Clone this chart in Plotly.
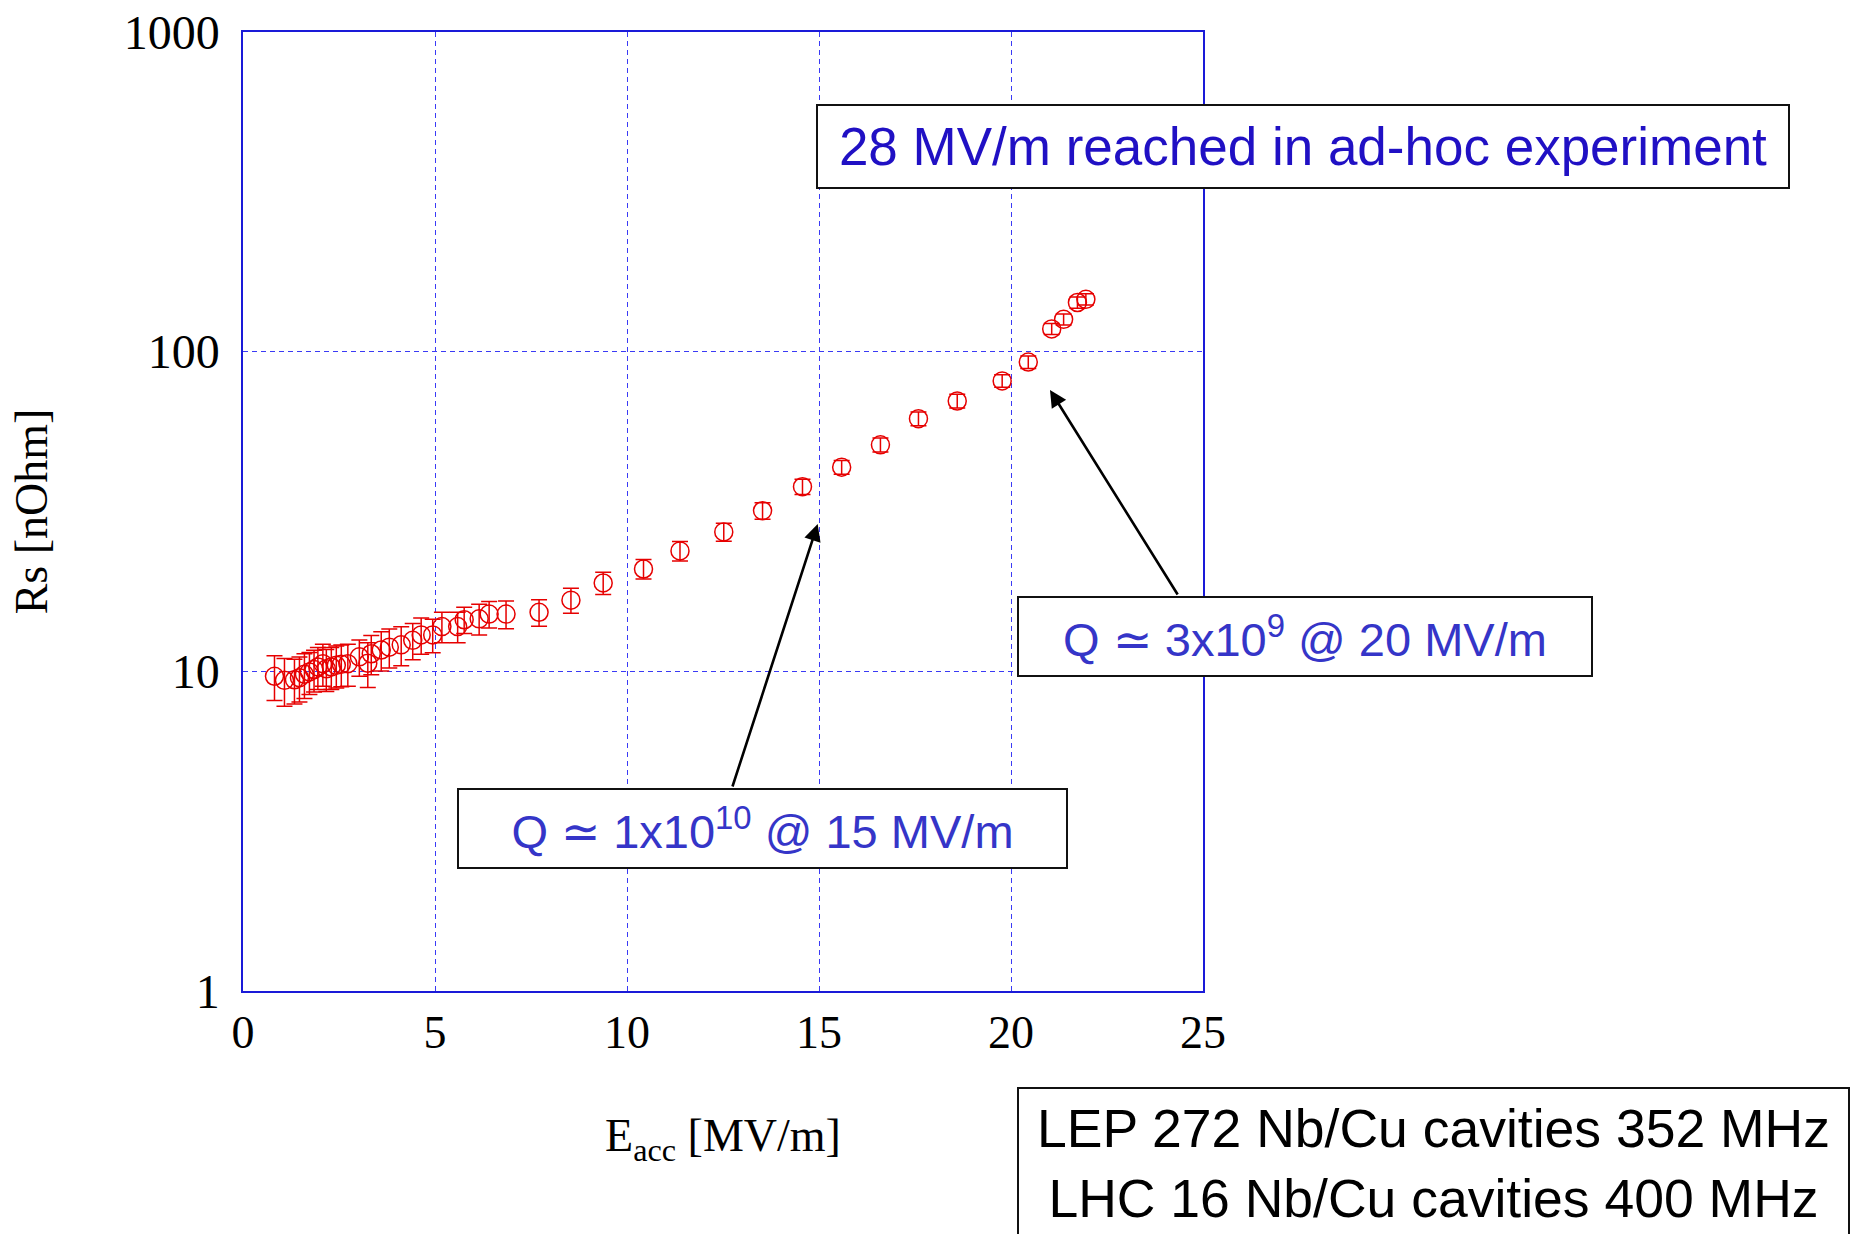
import plotly.graph_objects as go

# ---------------- data ----------------
e_acc = [0.82, 1.08, 1.34, 1.47, 1.60, 1.73, 1.85, 1.95, 2.08, 2.17, 2.30, 2.43, 2.56, 2.73,
         3.03, 3.25, 3.34, 3.60, 3.81, 4.12, 4.42, 4.64, 4.94, 5.18, 5.59, 5.76, 6.15, 6.41,
         6.85, 7.71, 8.54, 9.38, 10.43, 11.38, 12.52, 13.53, 14.57, 15.59, 16.60, 17.59,
         18.60, 19.77, 20.45, 21.06, 21.37, 21.73, 21.95]
rs = [9.65, 9.37, 9.41, 9.55, 9.79, 9.96, 10.13, 10.32, 10.57, 10.18, 10.32, 10.44, 10.52, 10.57,
      11.1, 10.6, 11.35, 11.66, 11.9, 12.1, 12.5, 13.0, 13.0, 13.8, 13.8, 14.5, 14.6, 15.1,
      15.1, 15.3, 16.7, 18.9, 20.9, 23.8, 27.3, 31.8, 37.8, 43.5, 51.1, 61.7,
      70.1, 81.0, 92.8, 117.8, 126.2, 142.5, 145.8]
rs_err_pct = [16, 17, 16, 16, 16, 15, 15, 15, 15, 15, 15, 15, 15, 15,
              13, 16, 14, 14, 14, 14, 13, 13, 12, 11, 11, 9.5, 11, 9.5,
              10, 9.5, 9, 8, 7, 7, 6.5, 6, 5.5, 5, 5, 5,
              5, 4.5, 4.5, 4, 4, 4, 4]

x_ticks = [0, 5, 10, 15, 20, 25]
y_ticks = [1, 10, 100, 1000]
y_ticktext = ["1", "10", "100", "1000"]

note_top = "28 MV/m reached in ad-hoc experiment"
note_q20 = "Q \u2243 3x10<sup>9</sup> @ 20 MV/m"
note_q15 = "Q \u2243 1x10<sup>10</sup> @ 15 MV/m"
note_cav = "LEP 272 Nb/Cu cavities 352 MHz<br>LHC 16 Nb/Cu cavities 400 MHz"

# ---------------- styling ----------------
W, H = 1854, 1234
L, R, T, B = 243, 651, 32, 243
PW, PH = W - L - R, H - T - B
RED = "#e60000"
FRAME = "#1a1ad8"
GRID = "#3a3af5"
SERIF = "Liberation Serif, Times New Roman, serif"
SANS = "Liberation Sans, Arial, sans-serif"


def px(xp, yp):
    """page pixel -> paper coords"""
    return (xp - L) / PW, (H - B - yp) / PH


err = [v * p / 100.0 for v, p in zip(rs, rs_err_pct)]

fig = go.Figure()
fig.add_trace(go.Scatter(
    x=e_acc, y=rs, mode="markers", showlegend=False,
    marker=dict(symbol="circle-open", size=18, color=RED, line=dict(width=1.5, color=RED)),
    error_y=dict(type="data", array=err, visible=True, color=RED, thickness=1.5, width=8),
))

axis_common = dict(
    showline=True, linecolor=FRAME, linewidth=1.5, mirror=True,
    showgrid=True, gridcolor=GRID, gridwidth=1.3, griddash="5px,4px",
    zeroline=False, ticks="",
)

fig.update_layout(
    width=W, height=H,
    margin=dict(l=L, r=R, t=T, b=B, autoexpand=False),
    paper_bgcolor="white", plot_bgcolor="white",
    xaxis=dict(range=[0, 25], tickvals=x_ticks, ticklabelstandoff=0,
               tickfont=dict(family=SERIF, size=46, color="black"),
               title=dict(text="E<sub>acc</sub> [MV/m]", standoff=62,
                          font=dict(family=SERIF, size=46, color="black")),
               **axis_common),
    yaxis=dict(type="log", range=[0, 3], tickvals=y_ticks, ticktext=y_ticktext,
               ticklabelstandoff=12,
               tickfont=dict(family=SERIF, size=48, color="black"),
               title=dict(text="Rs [nOhm]", standoff=62,
                          font=dict(family=SERIF, size=46, color="black")),
               **axis_common),
)

anns = []
# arrows
for tip, tail in [((817.7, 524), (732, 788)), ((1050, 390), (1178.6, 596))]:
    tx, ty = px(*tip)
    anns.append(dict(xref="paper", yref="paper", x=tx, y=ty, text="", showarrow=True,
                     ax=tail[0] - tip[0], ay=tail[1] - tip[1],
                     arrowhead=2, arrowsize=1.3, arrowwidth=2.6, arrowcolor="black",
                     standoff=0, startstandoff=0))

BW = 2


def box(text, left, top, right, bottom, size, color):
    x0, y0 = px(left, top)
    return dict(xref="paper", yref="paper", x=x0, y=y0, xanchor="left", yanchor="top",
                text=text, showarrow=False, align="center", valign="middle",
                width=right - left - 2 * BW, height=bottom - top - 2 * BW,
                bgcolor="white", bordercolor="#111111", borderwidth=BW, borderpad=0,
                font=dict(family=SANS, size=size, color=color))


anns.append(box(note_top, 816, 104, 1790, 189, 53, "#2010c4"))
anns.append(box(note_q20, 1017, 596, 1593, 677, 47, "#3535c8"))
anns.append(box(note_q15, 457, 788, 1068, 869, 47, "#3535c8"))
anns.append(box(note_cav, 1017, 1087, 1850, 1240, 53.5, "black"))

fig.update_layout(annotations=anns)

fig.write_html("out.html")
